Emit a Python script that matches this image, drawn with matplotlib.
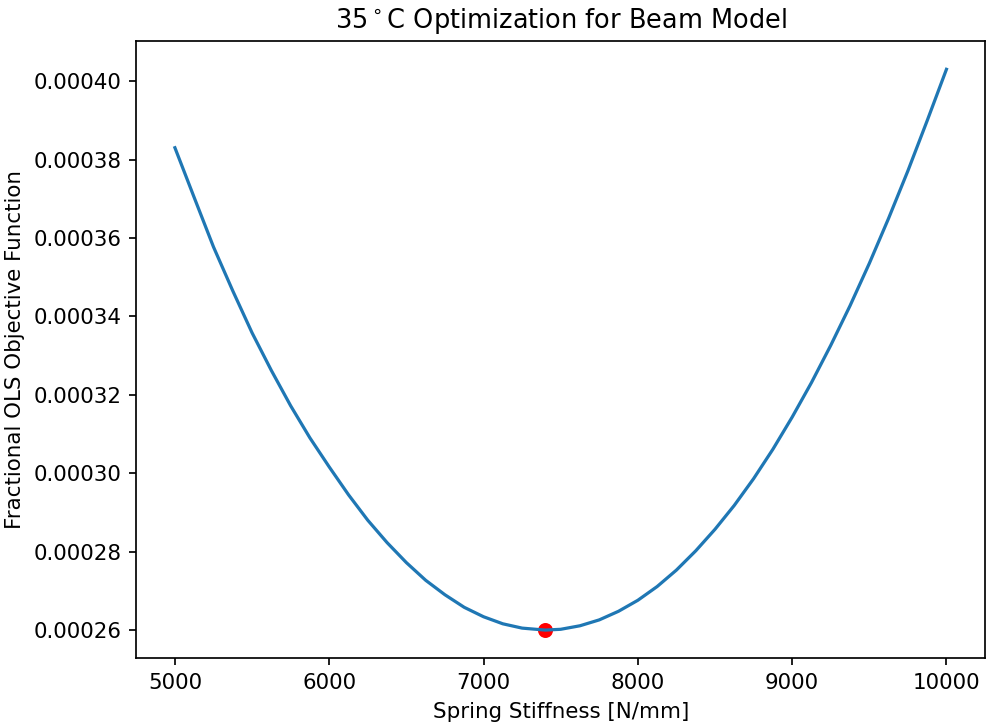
import matplotlib
matplotlib.use('Agg')
import matplotlib.pyplot as plt

# Objective function, spring stiffness in N/mm
stiffness = [5000, 5125, 5250, 5375, 5500, 5625, 5750, 5875, 6000, 6125,
             6250, 6375, 6500, 6625, 6750, 6875, 7000, 7125, 7250, 7400,
             7500, 7625, 7750, 7875, 8000, 8125, 8250, 8375, 8500, 8625,
             8750, 8875, 9000, 9125, 9250, 9375, 9500, 9625, 9750, 9875,
             10000]
objective = [0.0003830, 0.0003703, 0.0003577, 0.0003465, 0.0003358,
             0.0003262, 0.0003172, 0.0003090, 0.0003016, 0.0002945,
             0.0002880, 0.0002823, 0.0002772, 0.0002727, 0.0002690,
             0.0002658, 0.0002634, 0.0002616, 0.0002605, 0.0002600,
             0.0002602, 0.0002611, 0.0002626, 0.0002648, 0.0002676,
             0.0002711, 0.0002753, 0.0002802, 0.0002857, 0.0002918,
             0.0002986, 0.0003061, 0.0003143, 0.0003231, 0.0003326,
             0.0003427, 0.0003535, 0.0003650, 0.0003771, 0.0003899,
             0.0004030]

# optimum
best_k = 7400
best_obj = 0.000260

fig, ax = plt.subplots(figsize=(988 / 154, 724 / 154), dpi=154)
ax.scatter([best_k], [best_obj], color='red')
ax.plot(stiffness, objective)
ax.set_title(r'35$^\circ$C Optimization for Beam Model')
ax.set_xlabel('Spring Stiffness [N/mm]')
ax.set_ylabel('Fractional OLS Objective Function')
fig.subplots_adjust(left=0.138, right=0.997, bottom=0.091, top=0.943)
fig.savefig('out.png', dpi=154)
